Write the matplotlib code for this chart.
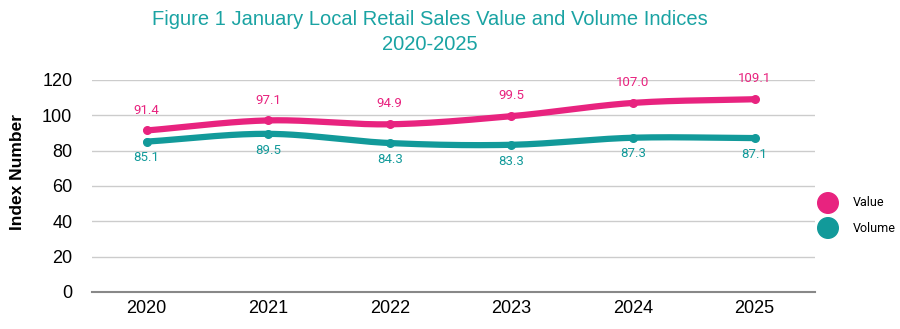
import matplotlib.pyplot as plt
import numpy as np

years = ['2020', '2021', '2022', '2023', '2024', '2025']
value_idx = [91.4, 97.1, 94.9, 99.5, 107.0, 109.1]
volume_idx = [85.1, 89.5, 84.3, 83.3, 87.3, 87.1]

PINK = '#E8237F'
TEAL = '#129A9A'


def smooth(x, y, n=40):
    # cubic hermite curve through the points, just for the rounded line look
    x = np.asarray(x, float)
    y = np.asarray(y, float)
    m = np.gradient(y, x)
    xs, ys = [], []
    for i in range(len(x) - 1):
        h = x[i + 1] - x[i]
        t = np.linspace(0, 1, n)
        h00 = 2 * t**3 - 3 * t**2 + 1
        h10 = t**3 - 2 * t**2 + t
        h01 = -2 * t**3 + 3 * t**2
        h11 = t**3 - t**2
        xs.append(x[i] + t * h)
        ys.append(h00 * y[i] + h10 * h * m[i] + h01 * y[i + 1] + h11 * h * m[i + 1])
    return np.concatenate(xs), np.concatenate(ys)


fig = plt.figure(figsize=(9, 3.29), dpi=100)
ax = fig.add_axes([0.102, 0.1125, 0.804, 0.6445])

x = np.arange(len(years))
for vals, col, off, va in [(value_idx, PINK, 10, 'bottom'), (volume_idx, TEAL, -7, 'top')]:
    sx, sy = smooth(x, vals)
    ax.plot(sx, sy, color=col, lw=4.5, solid_capstyle='round', zorder=3)
    ax.scatter(x, vals, color=col, s=30, zorder=4)
    for xi, v in zip(x, vals):
        ax.annotate(f'{v:.1f}', (xi, v), xytext=(0, off), textcoords='offset points',
                    ha='center', va=va, color=col, fontsize=9.5, family='Roboto')

ax.set_xlim(-0.45, 5.5)
ax.set_ylim(0, 120)
ax.set_yticks(range(0, 121, 20))
ax.set_xticks(x)
ax.set_xticklabels(years)
ax.tick_params(length=0, labelsize=13, pad=6)
for lab in ax.get_xticklabels() + ax.get_yticklabels():
    lab.set_family('Liberation Sans')
ax.tick_params(axis='y', pad=14)
ax.grid(axis='y', color='#CCCCCC', lw=1)
ax.set_axisbelow(True)
for s in ['top', 'right', 'left']:
    ax.spines[s].set_visible(False)
ax.spines['bottom'].set_color('#888888')
ax.spines['bottom'].set_linewidth(1.5)

ax.set_ylabel('Index Number', fontsize=12.5, fontweight='bold', family='Liberation Sans')
ax.yaxis.set_label_coords(-0.093, 0.566)

fig.text(0.478, 0.903, 'Figure 1 January Local Retail Sales Value and Volume Indices\n2020-2025',
         ha='center', va='center', color='#1AA3A3', fontsize=14.5,
         family='Liberation Sans', linespacing=1.35)

# legend drawn in pixel coords on an overlay axes
lg_ax = fig.add_axes([0, 0, 1, 1], facecolor='none')
lg_ax.set_xlim(0, 900)
lg_ax.set_ylim(329, 0)
lg_ax.axis('off')
lg_ax.scatter([828, 828], [203, 228], s=220, color=[PINK, TEAL])
for ly, lab in [(203, 'Value'), (228, 'Volume')]:
    lg_ax.text(853, ly, lab, va='center', ha='left', fontsize=9, family='Roboto')

fig.savefig('out.png', dpi=100)
